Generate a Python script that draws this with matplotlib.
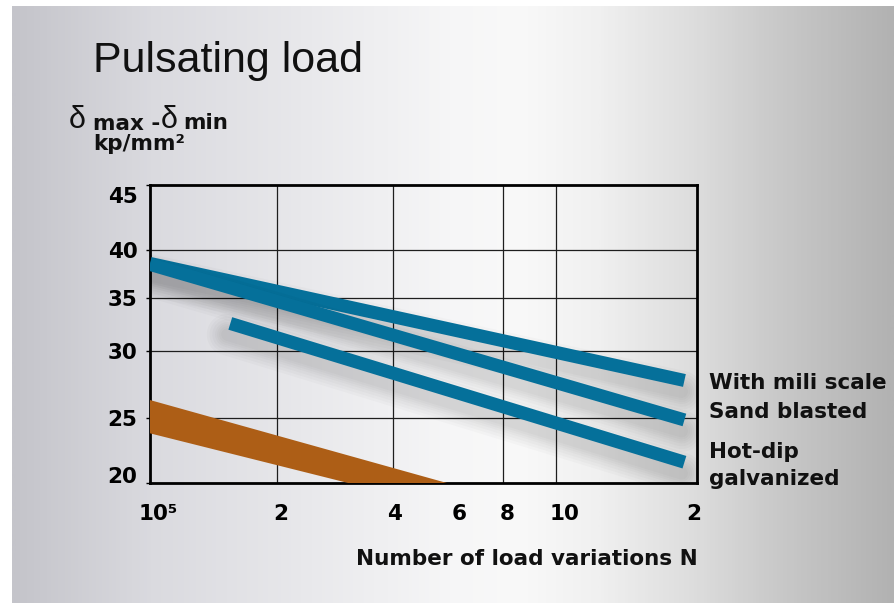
import numpy as np
import matplotlib
matplotlib.use("Agg")
import matplotlib.pyplot as plt
from matplotlib import patheffects as pe
from matplotlib.transforms import ScaledTranslation
from matplotlib.ticker import NullLocator
from matplotlib.colors import LinearSegmentedColormap

# ---------------- data ----------------
x_ticks = [1e5, 2e5, 4e5, 6e5, 8e5, 1e6, 2e6]
x_tick_labels = ["10\u2075", "2", "4", "6", "8", "10", "2"]
x_grid = [2e5, 4e5, 8e5, 1e6]
y_ticks = [20, 25, 30, 35, 40, 45]
y_tick_labels = ["20", "25", "30", "35", "40", "45"]

series_names = ["With mili scale", "Sand blasted", "Hot-dip\ngalvanized"]
mili_N = [1e5, 1.88e6]
mili_S = [38.6, 27.8]
sand_N = [1e5, 1.88e6]
sand_S = [38.5, 24.85]
hot_N = [1.55e5, 1.88e6]
hot_S = [32.6, 21.6]
band_N = [1e5, 5.57e5, 3.06e5, 1e5]
band_S = [26.34, 20.0, 20.0, 23.82]

# calibration of the hand-drawn (non-uniform) axes, in pixels from the axes origin
x_cal_pos = [0, 127, 243, 309, 353, 406, 547]
y_cal_pos = [0, 65, 132, 185, 233, 298]

W, H = 894, 603
BLUE = "#05709a"
ORANGE = "#ad5e16"
FONT = ["DejaVu Sans"]


def _pw(v, xs, ys):
    v = np.asarray(v, dtype=float)
    xs = np.asarray(xs, dtype=float)
    ys = np.asarray(ys, dtype=float)
    out = np.interp(v, xs, ys)
    lo = (ys[1] - ys[0]) / (xs[1] - xs[0])
    hi = (ys[-1] - ys[-2]) / (xs[-1] - xs[-2])
    out = np.where(v < xs[0], ys[0] + (v - xs[0]) * lo, out)
    out = np.where(v > xs[-1], ys[-1] + (v - xs[-1]) * hi, out)
    return out


LX = np.log10(x_ticks)


def x_fwd(v):
    v = np.asarray(v, dtype=float)
    with np.errstate(divide="ignore", invalid="ignore"):
        lv = np.log10(np.maximum(v, 1e-12))
    return _pw(lv, LX, x_cal_pos)


def x_inv(p):
    return 10.0 ** _pw(p, x_cal_pos, LX)


def y_fwd(v):
    return _pw(v, y_ticks, y_cal_pos)


def y_inv(p):
    return _pw(p, y_cal_pos, y_ticks)


def fx(px):
    return px / W


def fy(py):
    return 1 - py / H


fig = plt.figure(figsize=(W / 100, H / 100), dpi=100)
fig.patch.set_facecolor("white")

# ---- background gradient ----
bg = fig.add_axes([fx(12), 0, 1 - fx(12), fy(6)], zorder=0)
stops_px = [12, 150, 300, 450, 520, 600, 700, 774, 894]
stops_col = [(196, 196, 202), (218, 218, 223), (232, 232, 235), (246, 246, 247),
             (249, 249, 249), (240, 240, 240), (220, 220, 220), (202, 202, 202),
             (178, 178, 178)]
pos = [(p - 12) / (894 - 12) for p in stops_px]
cmap = LinearSegmentedColormap.from_list(
    "bg", list(zip(pos, [tuple(c / 255 for c in col) for col in stops_col])))
bg.imshow(np.linspace(0, 1, 600)[None, :], aspect="auto", cmap=cmap,
          extent=[0, 1, 0, 1])
bg.set_axis_off()

# ---- main axes ----
ax = fig.add_axes([fx(150), fy(483), 547 / W, 298 / H], zorder=2)
ax.set_facecolor("none")
ax.set_xscale("function", functions=(x_fwd, x_inv))
ax.set_yscale("function", functions=(y_fwd, y_inv))
ax.set_xlim(1e5, 2e6)
ax.set_ylim(20, 45)

for g in x_grid:
    ax.axvline(g, color="#1e1e1e", lw=0.9, zorder=1)
for g in y_ticks[1:-1]:
    ax.axhline(g, color="#1e1e1e", lw=0.9, zorder=1)

for s in ax.spines.values():
    s.set_linewidth(2.0)
    s.set_color("black")

ax.fill(band_N, band_S, color=ORANGE, lw=0, zorder=3)

shadow = [pe.SimpleLineShadow(offset=(-2, -8), shadow_color="black", alpha=0.018,
                              linewidth=w, capstyle="round")
          for w in (30, 26, 22, 18, 15, 12, 9)] + [pe.Normal()]
for N, S in ((mili_N, mili_S), (sand_N, sand_S), (hot_N, hot_S)):
    ax.plot(N, S, color=BLUE, lw=9.4, solid_capstyle="butt", zorder=4,
            path_effects=shadow)

# ticks
ax.set_xticks(x_ticks, x_tick_labels)
ax.xaxis.set_minor_locator(NullLocator())
ax.set_yticks(y_ticks, y_tick_labels)
ax.yaxis.set_minor_locator(NullLocator())
ax.tick_params(axis="x", length=0, pad=15, labelsize=15.5)
ax.tick_params(axis="y", length=3, width=1, pad=6, labelsize=15.5, direction="out")
for lab in ax.get_xticklabels() + ax.get_yticklabels():
    lab.set_fontweight("bold")
    lab.set_fontfamily(FONT)

x_off = [8, 4, 1, 0, 4, 9, -3]
for lab, dx in zip(ax.get_xticklabels(), x_off):
    lab.set_transform(lab.get_transform() + ScaledTranslation(dx / 100, 0, fig.dpi_scale_trans))
ylabs = ax.get_yticklabels()
ylabs[0].set_va("baseline")
ylabs[-1].set_va("top")
ylabs[-1].set_transform(ylabs[-1].get_transform() + ScaledTranslation(0, -2 / 100, fig.dpi_scale_trans))

# ---- texts ----
txt = dict(fontsize=15.5, fontweight="bold", family=FONT, color="#111111")
fig.text(fx(93), fy(72), "Pulsating load", fontsize=31,
         family=["Liberation Sans", "DejaVu Sans"], color="#111111", va="baseline")

delta_font = dict(fontsize=22, family=["Liberation Sans Narrow", "Liberation Sans", "DejaVu Sans"],
                  color="#111111", va="baseline")
fig.text(fx(69), fy(128), "\u03b4", **delta_font)
fig.text(fx(93), fy(130), "max -", va="baseline", **txt)
fig.text(fx(161), fy(128), "\u03b4", **delta_font)
fig.text(fx(183), fy(129), "min", va="baseline", **txt)
fig.text(fx(93), fy(150), "kp/mm\u00b2", va="baseline", **txt)

label_base = [389, 418, 458]
for name, yb in zip(series_names, label_base):
    for i, line in enumerate(name.split("\n")):
        fig.text(fx(709), fy(yb + 27 * i), line, va="baseline", **txt)

fig.text(fx(698), fy(565), "Number of load variations N", ha="right", va="baseline", **txt)

fig.savefig("out.png", dpi=100)
